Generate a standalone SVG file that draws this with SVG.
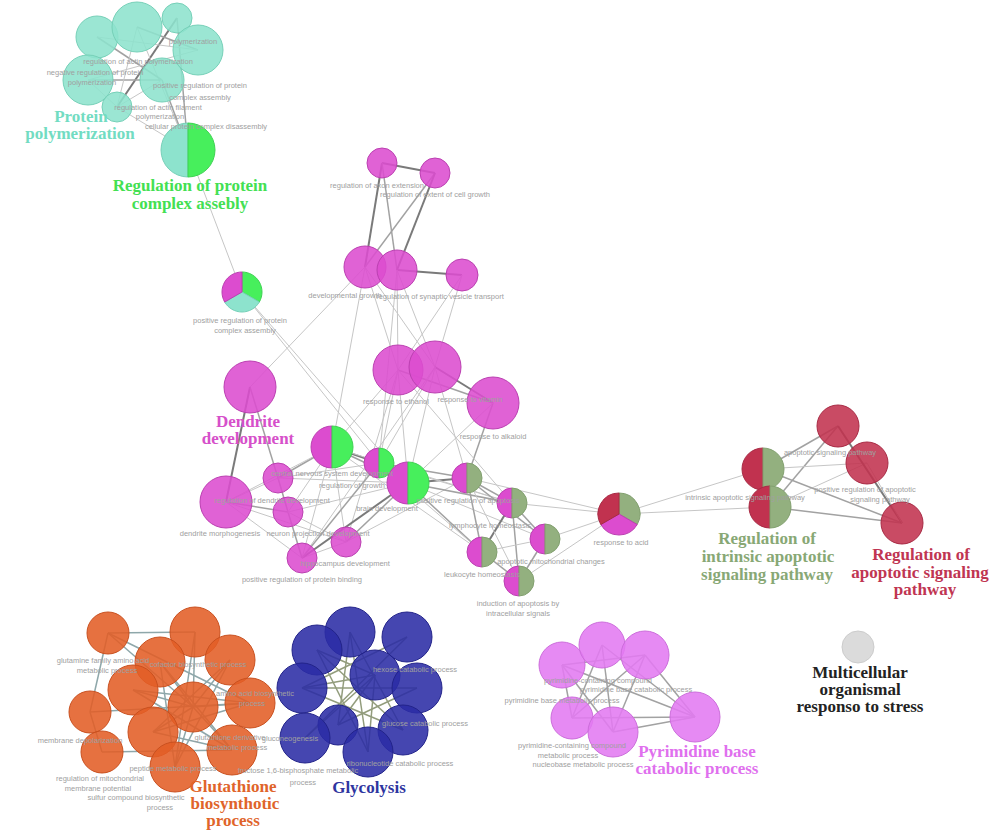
<svg xmlns="http://www.w3.org/2000/svg" width="1000" height="840" viewBox="0 0 1000 840">
<style>
.e{stroke:#c6c6c6;stroke-width:1;fill:none}
.e2{stroke:#a2a2a2;stroke-width:1.5;fill:none}
.e3{stroke:#7a7a7a;stroke-width:2;fill:none}
.eo{stroke:#8ea7aa;stroke-width:1.5;fill:none}
.eb{stroke:#929c7c;stroke-width:1.5;fill:none}
.n{fill-opacity:0.88;stroke-width:1}
.cy{fill:#8de3cd;stroke:#76d0b8}
.gr{fill:#47ef5c;stroke:#3ed252}
.mg{fill:#dc4ccf;stroke:#bb40b1}
.gg{fill:#93b07f;stroke:#82a06f}
.cr{fill:#c1324f;stroke:#a82a44}
.or{fill:#e35d25;stroke:#c9501f}
.bl{fill:#2b2ca5;stroke:#22238a}
.vi{fill:#e27af1;stroke:#cc6ddb}
.gy{fill:#d6d6d6;stroke:#cccccc}
.s{font-family:"Liberation Sans",Arial,sans-serif;font-size:7.5px;fill:#a0a0a0;text-anchor:middle}
.t{font-family:"Liberation Serif","Times New Roman",serif;font-weight:bold;font-size:17px;text-anchor:middle}
</style>
<rect width="1000" height="840" fill="#ffffff"/>

<g id="connectors">
<line class="e3" x1="177" y1="18" x2="117" y2="107"/>
<line class="e2" x1="177" y1="18" x2="188" y2="150"/>
<line class="e" x1="137" y1="27" x2="188" y2="150"/>
<line class="e2" x1="162" y1="80" x2="188" y2="150"/>
<line class="e" x1="117" y1="107" x2="188" y2="150"/>
<line class="e2" x1="97" y1="37" x2="162" y2="80"/>
<line class="e2" x1="88" y1="80" x2="162" y2="80"/>
<line class="e" x1="88" y1="80" x2="198" y2="50"/>
<line class="e2" x1="137" y1="27" x2="198" y2="50"/>
<line class="e" x1="117" y1="107" x2="162" y2="80"/>
<line class="e" x1="88" y1="80" x2="117" y2="107"/>
<line class="e" x1="97" y1="37" x2="198" y2="50"/>
<line class="e" x1="137" y1="27" x2="117" y2="107"/>
<line class="e" x1="188" y1="150" x2="242" y2="292"/>
<line class="e" x1="242" y1="292" x2="379" y2="463"/>
<line class="e" x1="242" y1="292" x2="408" y2="483"/>
<line class="e3" x1="382" y1="163" x2="435" y2="173"/>
<line class="e3" x1="382" y1="163" x2="365" y2="267"/>
<line class="e2" x1="382" y1="163" x2="397" y2="270"/>
<line class="e2" x1="435" y1="173" x2="365" y2="267"/>
<line class="e3" x1="435" y1="173" x2="397" y2="270"/>
<line class="e3" x1="397" y1="270" x2="462" y2="275"/>
<line class="e" x1="365" y1="267" x2="398" y2="370"/>
<line class="e" x1="397" y1="270" x2="398" y2="370"/>
<line class="e" x1="397" y1="270" x2="435" y2="367"/>
<line class="e" x1="365" y1="267" x2="435" y2="367"/>
<line class="e" x1="462" y1="275" x2="435" y2="367"/>
<line class="e" x1="462" y1="275" x2="398" y2="370"/>
<line class="e" x1="365" y1="267" x2="332" y2="447"/>
<line class="e" x1="397" y1="270" x2="379" y2="463"/>
<line class="e" x1="365" y1="267" x2="250" y2="387"/>
<line class="e3" x1="435" y1="367" x2="493" y2="403"/>
<line class="e2" x1="398" y1="370" x2="493" y2="403"/>
<line class="e" x1="398" y1="370" x2="332" y2="447"/>
<line class="e" x1="398" y1="370" x2="379" y2="463"/>
<line class="e" x1="398" y1="370" x2="408" y2="483"/>
<line class="e" x1="435" y1="367" x2="408" y2="483"/>
<line class="e" x1="435" y1="367" x2="467" y2="478"/>
<line class="e" x1="435" y1="367" x2="379" y2="463"/>
<line class="e2" x1="493" y1="403" x2="467" y2="478"/>
<line class="e" x1="493" y1="403" x2="408" y2="483"/>
<line class="e" x1="398" y1="370" x2="346" y2="542"/>
<line class="e" x1="435" y1="367" x2="302" y2="558"/>
<line class="e" x1="398" y1="370" x2="512" y2="503"/>
<line class="e3" x1="250" y1="387" x2="226" y2="502"/>
<line class="e2" x1="250" y1="387" x2="278" y2="478"/>
<line class="e" x1="226" y1="502" x2="278" y2="478"/>
<line class="e2" x1="226" y1="502" x2="288" y2="512"/>
<line class="e" x1="226" y1="502" x2="346" y2="542"/>
<line class="e" x1="226" y1="502" x2="302" y2="558"/>
<line class="e2" x1="278" y1="478" x2="288" y2="512"/>
<line class="e2" x1="278" y1="478" x2="332" y2="447"/>
<line class="e" x1="288" y1="512" x2="332" y2="447"/>
<line class="e2" x1="288" y1="512" x2="302" y2="558"/>
<line class="e" x1="288" y1="512" x2="346" y2="542"/>
<line class="e" x1="302" y1="558" x2="346" y2="542"/>
<line class="e3" x1="302" y1="558" x2="408" y2="483"/>
<line class="e2" x1="346" y1="542" x2="408" y2="483"/>
<line class="e" x1="346" y1="542" x2="332" y2="447"/>
<line class="e" x1="302" y1="558" x2="332" y2="447"/>
<line class="e" x1="278" y1="478" x2="408" y2="483"/>
<line class="e" x1="288" y1="512" x2="408" y2="483"/>
<line class="e" x1="226" y1="502" x2="332" y2="447"/>
<line class="e" x1="346" y1="542" x2="467" y2="478"/>
<line class="e" x1="278" y1="478" x2="379" y2="463"/>
<line class="e2" x1="302" y1="558" x2="379" y2="463"/>
<line class="e3" x1="332" y1="447" x2="379" y2="463"/>
<line class="e2" x1="379" y1="463" x2="408" y2="483"/>
<line class="e2" x1="332" y1="447" x2="408" y2="483"/>
<line class="e3" x1="408" y1="483" x2="467" y2="478"/>
<line class="e2" x1="408" y1="483" x2="512" y2="503"/>
<line class="e2" x1="408" y1="483" x2="482" y2="552"/>
<line class="e" x1="408" y1="483" x2="545" y2="539"/>
<line class="e2" x1="379" y1="463" x2="467" y2="478"/>
<line class="e" x1="379" y1="463" x2="482" y2="552"/>
<line class="e" x1="332" y1="447" x2="482" y2="552"/>
<line class="e" x1="332" y1="447" x2="512" y2="503"/>
<line class="e" x1="379" y1="463" x2="512" y2="503"/>
<line class="e2" x1="467" y1="478" x2="512" y2="503"/>
<line class="e2" x1="467" y1="478" x2="482" y2="552"/>
<line class="e2" x1="467" y1="478" x2="545" y2="539"/>
<line class="e2" x1="512" y1="503" x2="545" y2="539"/>
<line class="e3" x1="512" y1="503" x2="482" y2="552"/>
<line class="e2" x1="512" y1="503" x2="519" y2="581"/>
<line class="e" x1="545" y1="539" x2="482" y2="552"/>
<line class="e2" x1="545" y1="539" x2="519" y2="581"/>
<line class="e2" x1="482" y1="552" x2="519" y2="581"/>
<line class="e" x1="467" y1="478" x2="519" y2="581"/>
<line class="e" x1="467" y1="478" x2="619" y2="514"/>
<line class="e" x1="512" y1="503" x2="619" y2="514"/>
<line class="e" x1="545" y1="539" x2="619" y2="514"/>
<line class="e" x1="519" y1="581" x2="619" y2="514"/>
<line class="e" x1="619" y1="514" x2="763" y2="469"/>
<line class="e" x1="619" y1="514" x2="770" y2="507"/>
<line class="e2" x1="763" y1="469" x2="838" y2="426"/>
<line class="e2" x1="770" y1="507" x2="838" y2="426"/>
<line class="e" x1="763" y1="469" x2="867" y2="463"/>
<line class="e" x1="770" y1="507" x2="867" y2="463"/>
<line class="e2" x1="763" y1="469" x2="902" y2="523"/>
<line class="e2" x1="770" y1="507" x2="902" y2="523"/>
<line class="e3" x1="838" y1="426" x2="902" y2="523"/>
<line class="e" x1="867" y1="463" x2="902" y2="523"/>
<line class="eo" x1="108" y1="633" x2="195" y2="632"/>
<line class="eo" x1="108" y1="633" x2="90" y2="712"/>
<line class="eo" x1="90" y1="712" x2="102" y2="752"/>
<line class="eo" x1="108" y1="633" x2="193" y2="707"/>
<line class="eo" x1="195" y1="632" x2="193" y2="707"/>
<line class="eo" x1="160" y1="662" x2="193" y2="707"/>
<line class="eo" x1="230" y1="660" x2="193" y2="707"/>
<line class="eo" x1="133" y1="690" x2="193" y2="707"/>
<line class="eo" x1="250" y1="703" x2="193" y2="707"/>
<line class="eo" x1="153" y1="732" x2="193" y2="707"/>
<line class="eo" x1="175" y1="767" x2="193" y2="707"/>
<line class="eo" x1="232" y1="750" x2="193" y2="707"/>
<line class="eo" x1="160" y1="662" x2="232" y2="750"/>
<line class="eo" x1="230" y1="660" x2="153" y2="732"/>
<line class="eo" x1="133" y1="690" x2="250" y2="703"/>
<line class="eo" x1="195" y1="632" x2="175" y2="767"/>
<line class="eo" x1="160" y1="662" x2="175" y2="767"/>
<line class="eo" x1="230" y1="660" x2="175" y2="767"/>
<line class="eo" x1="153" y1="732" x2="232" y2="750"/>
<line class="eo" x1="133" y1="690" x2="232" y2="750"/>
<line class="eo" x1="90" y1="712" x2="250" y2="703"/>
<line class="eo" x1="102" y1="752" x2="232" y2="750"/>
<line class="eo" x1="153" y1="732" x2="250" y2="703"/>
<line class="eo" x1="108" y1="633" x2="250" y2="703"/>
<line class="eb" x1="350" y1="632" x2="368" y2="752"/>
<line class="eb" x1="317" y1="650" x2="403" y2="730"/>
<line class="eb" x1="302" y1="688" x2="403" y2="730"/>
<line class="eb" x1="302" y1="688" x2="375" y2="675"/>
<line class="eb" x1="317" y1="650" x2="375" y2="675"/>
<line class="eb" x1="375" y1="675" x2="305" y2="738"/>
<line class="eb" x1="375" y1="675" x2="338" y2="725"/>
<line class="eb" x1="407" y1="637" x2="305" y2="738"/>
<line class="eb" x1="350" y1="632" x2="338" y2="725"/>
<line class="eb" x1="417" y1="688" x2="338" y2="725"/>
<line class="eb" x1="317" y1="650" x2="368" y2="752"/>
<line class="eb" x1="375" y1="675" x2="368" y2="752"/>
<line class="eb" x1="407" y1="637" x2="302" y2="688"/>
<line class="eb" x1="417" y1="688" x2="302" y2="688"/>
<line class="eb" x1="350" y1="632" x2="403" y2="730"/>
<line class="e2" x1="562" y1="665" x2="645" y2="655"/>
<line class="e2" x1="562" y1="665" x2="695" y2="717"/>
<line class="e2" x1="602" y1="645" x2="572" y2="718"/>
<line class="e2" x1="602" y1="645" x2="613" y2="732"/>
<line class="e2" x1="645" y1="655" x2="572" y2="718"/>
<line class="e2" x1="645" y1="655" x2="695" y2="717"/>
<line class="e2" x1="572" y1="718" x2="695" y2="717"/>
<line class="e2" x1="613" y1="732" x2="695" y2="717"/>
<line class="e2" x1="562" y1="665" x2="613" y2="732"/>
<line class="e2" x1="602" y1="645" x2="695" y2="717"/>
<line class="e2" x1="562" y1="665" x2="572" y2="718"/>
<line class="e2" x1="645" y1="655" x2="613" y2="732"/>
</g>

<g id="node-c1"><circle class="n cy" cx="97" cy="37" r="21"/></g>
<g id="node-c2"><circle class="n cy" cx="137" cy="27" r="25"/></g>
<g id="node-c3"><circle class="n cy" cx="177" cy="18" r="15"/></g>
<g id="node-c4"><circle class="n cy" cx="198" cy="50" r="25"/></g>
<g id="node-c5"><circle class="n cy" cx="88" cy="80" r="25"/></g>
<g id="node-c6"><circle class="n cy" cx="162" cy="80" r="22"/></g>
<g id="node-c7"><circle class="n cy" cx="117" cy="107" r="15"/></g>
<g id="node-c8">
<path class="cy" d="M188,123 A27,27 0 0 0 188,177 Z"/>
<path class="gr" d="M188,123 A27,27 0 0 1 188,177 Z"/>
</g>

<g id="node-m-axon"><circle class="n mg" cx="382" cy="163" r="15"/></g>
<g id="node-m-extent"><circle class="n mg" cx="435" cy="173" r="15"/></g>
<g id="node-m-devgrowth"><circle class="n mg" cx="365" cy="267" r="21"/></g>
<g id="node-m-synaptic"><circle class="n mg" cx="397" cy="270" r="20"/></g>
<g id="node-m-small"><circle class="n mg" cx="462" cy="275" r="16"/></g>
<g id="node-t1">
<path class="gr" d="M242,292 L242,272 A20,20 0 0 1 259.32,302 Z"/>
<path class="cy" d="M242,292 L259.32,302 A20,20 0 0 1 224.68,302 Z"/>
<path class="mg" d="M242,292 L224.68,302 A20,20 0 0 1 242,272 Z"/>
</g>
<g id="node-m-ethanol"><circle class="n mg" cx="398" cy="370" r="25"/></g>
<g id="node-m-vitamin"><circle class="n mg" cx="435" cy="367" r="26"/></g>
<g id="node-m-alkaloid"><circle class="n mg" cx="493" cy="403" r="26"/></g>
<g id="node-dendrite"><circle class="n mg" cx="250" cy="387" r="26"/></g>
<g id="node-s1">
<path class="mg" d="M332,426 A21,21 0 0 0 332,468 Z"/>
<path class="gr" d="M332,426 A21,21 0 0 1 332,468 Z"/>
</g>
<g id="node-s2">
<path class="mg" d="M379,448 A15,15 0 0 0 379,478 Z"/>
<path class="gr" d="M379,448 A15,15 0 0 1 379,478 Z"/>
</g>
<g id="node-s3">
<path class="mg" d="M408,462 A21,21 0 0 0 408,504 Z"/>
<path class="gr" d="M408,462 A21,21 0 0 1 408,504 Z"/>
</g>
<g id="node-g1">
<path class="mg" d="M467,463 A15,15 0 0 0 467,493 Z"/>
<path class="gg" d="M467,463 A15,15 0 0 1 467,493 Z"/>
</g>
<g id="node-g2">
<path class="mg" d="M512,488 A15,15 0 0 0 512,518 Z"/>
<path class="gg" d="M512,488 A15,15 0 0 1 512,518 Z"/>
</g>
<g id="node-g3">
<path class="mg" d="M545,524 A15,15 0 0 0 545,554 Z"/>
<path class="gg" d="M545,524 A15,15 0 0 1 545,554 Z"/>
</g>
<g id="node-g4">
<path class="mg" d="M482,537 A15,15 0 0 0 482,567 Z"/>
<path class="gg" d="M482,537 A15,15 0 0 1 482,567 Z"/>
</g>
<g id="node-g5">
<path class="mg" d="M519,566 A15,15 0 0 0 519,596 Z"/>
<path class="gg" d="M519,566 A15,15 0 0 1 519,596 Z"/>
</g>
<g id="node-m1"><circle class="n mg" cx="278" cy="478" r="15"/></g>
<g id="node-m2"><circle class="n mg" cx="288" cy="512" r="15"/></g>
<g id="node-m3"><circle class="n mg" cx="226" cy="502" r="26"/></g>
<g id="node-m4"><circle class="n mg" cx="302" cy="558" r="15"/></g>
<g id="node-m5"><circle class="n mg" cx="346" cy="542" r="15"/></g>
<g id="node-t2">
<path class="gg" d="M619,514 L619,493 A21,21 0 0 1 637.19,524.5 Z"/>
<path class="mg" d="M619,514 L637.19,524.5 A21,21 0 0 1 600.81,524.5 Z"/>
<path class="cr" d="M619,514 L600.81,524.5 A21,21 0 0 1 619,493 Z"/>
</g>

<g id="node-r1">
<path class="cr" d="M763,448 A21,21 0 0 0 763,490 Z"/>
<path class="gg" d="M763,448 A21,21 0 0 1 763,490 Z"/>
</g>
<g id="node-r2">
<path class="cr" d="M770,486 A21,21 0 0 0 770,528 Z"/>
<path class="gg" d="M770,486 A21,21 0 0 1 770,528 Z"/>
</g>
<g id="node-r3"><circle class="n cr" cx="838" cy="426" r="21"/></g>
<g id="node-r4"><circle class="n cr" cx="867" cy="463" r="21"/></g>
<g id="node-r5"><circle class="n cr" cx="902" cy="523" r="21"/></g>

<g id="node-o1"><circle class="n or" cx="108" cy="633" r="21"/></g>
<g id="node-o2"><circle class="n or" cx="195" cy="632" r="25"/></g>
<g id="node-o3"><circle class="n or" cx="230" cy="660" r="25"/></g>
<g id="node-o4"><circle class="n or" cx="160" cy="662" r="25"/></g>
<g id="node-o5"><circle class="n or" cx="133" cy="690" r="25"/></g>
<g id="node-o6"><circle class="n or" cx="193" cy="707" r="25"/></g>
<g id="node-o7"><circle class="n or" cx="250" cy="703" r="25"/></g>
<g id="node-o8"><circle class="n or" cx="90" cy="712" r="21"/></g>
<g id="node-o9"><circle class="n or" cx="153" cy="732" r="25"/></g>
<g id="node-o10"><circle class="n or" cx="102" cy="752" r="21"/></g>
<g id="node-o11"><circle class="n or" cx="175" cy="767" r="25"/></g>
<g id="node-o12"><circle class="n or" cx="232" cy="750" r="25"/></g>

<g id="node-b1"><circle class="n bl" cx="350" cy="632" r="25"/></g>
<g id="node-b2"><circle class="n bl" cx="407" cy="637" r="25"/></g>
<g id="node-b3"><circle class="n bl" cx="317" cy="650" r="25"/></g>
<g id="node-b4"><circle class="n bl" cx="375" cy="675" r="25"/></g>
<g id="node-b5"><circle class="n bl" cx="302" cy="688" r="25"/></g>
<g id="node-b6"><circle class="n bl" cx="417" cy="688" r="25"/></g>
<g id="node-b7"><circle class="n bl" cx="338" cy="725" r="20"/></g>
<g id="node-b8"><circle class="n bl" cx="305" cy="738" r="25"/></g>
<g id="node-b9"><circle class="n bl" cx="403" cy="730" r="25"/></g>
<g id="node-b10"><circle class="n bl" cx="368" cy="752" r="25"/></g>

<g id="node-p1"><circle class="n vi" cx="562" cy="665" r="23"/></g>
<g id="node-p2"><circle class="n vi" cx="602" cy="645" r="23"/></g>
<g id="node-p3"><circle class="n vi" cx="645" cy="655" r="24"/></g>
<g id="node-p4"><circle class="n vi" cx="572" cy="718" r="21"/></g>
<g id="node-p5"><circle class="n vi" cx="613" cy="732" r="25"/></g>
<g id="node-p6"><circle class="n vi" cx="695" cy="717" r="25"/></g>

<g id="node-stress"><circle class="n gy" cx="858" cy="647" r="16"/></g>

<g id="small-labels">
<text class="s" x="193" y="44">polymerization</text>
<text class="s" x="138" y="64">regulation of actin polymerization</text>
<text class="s" x="95" y="75">negative regulation of protein</text>
<text class="s" x="92" y="85">polymerization</text>
<text class="s" x="200" y="88">positive regulation of protein</text>
<text class="s" x="200" y="100">complex assembly</text>
<text class="s" x="158" y="110">regulation of actin filament</text>
<text class="s" x="160" y="119">polymerization</text>
<text class="s" x="206" y="129">cellular protein complex disassembly</text>
<text class="s" x="377" y="188">regulation of axon extension</text>
<text class="s" x="435" y="197">regulation of extent of cell growth</text>
<text class="s" x="345" y="298">developmental growth</text>
<text class="s" x="440" y="299">regulation of synaptic vesicle transport</text>
<text class="s" x="240" y="323">positive regulation of protein</text>
<text class="s" x="245" y="333">complex assembly</text>
<text class="s" x="396" y="404">response to ethanol</text>
<text class="s" x="470" y="402">response to vitamin</text>
<text class="s" x="493" y="439">response to alkaloid</text>
<text class="s" x="332" y="476">central nervous system development</text>
<text class="s" x="352" y="488">regulation of growth</text>
<text class="s" x="272" y="503">regulation of dendrite development</text>
<text class="s" x="387" y="511">brain development</text>
<text class="s" x="468" y="503">positive regulation of apoptosis</text>
<text class="s" x="490" y="528">lymphocyte homeostasis</text>
<text class="s" x="220" y="536">dendrite morphogenesis</text>
<text class="s" x="318" y="536">neuron projection development</text>
<text class="s" x="551" y="564">apoptotic mitochondrial changes</text>
<text class="s" x="345" y="566">hippocampus development</text>
<text class="s" x="482" y="577">leukocyte homeostasis</text>
<text class="s" x="302" y="582">positive regulation of protein binding</text>
<text class="s" x="518" y="606">induction of apoptosis by</text>
<text class="s" x="518" y="616">intracellular signals</text>
<text class="s" x="621" y="545">response to acid</text>
<text class="s" x="830" y="455">apoptotic signaling pathway</text>
<text class="s" x="745" y="500">intrinsic apoptotic signaling pathway</text>
<text class="s" x="865" y="492">positive regulation of apoptotic</text>
<text class="s" x="880" y="502">signaling pathway</text>
<text class="s" x="103" y="663">glutamine family amino acid</text>
<text class="s" x="107" y="673">metabolic process</text>
<text class="s" x="198" y="667">cofactor biosynthetic process</text>
<text class="s" x="255" y="696">amino acid biosynthetic</text>
<text class="s" x="252" y="706">process</text>
<text class="s" x="80" y="743">membrane depolarization</text>
<text class="s" x="230" y="740">glutathione derivative</text>
<text class="s" x="237" y="750">metabolic process</text>
<text class="s" x="173" y="771">peptide metabolic process</text>
<text class="s" x="100" y="781">regulation of mitochondrial</text>
<text class="s" x="98" y="791">membrane potential</text>
<text class="s" x="136" y="800">sulfur compound biosynthetic</text>
<text class="s" x="160" y="810">process</text>
<text class="s" x="415" y="672">hexose catabolic process</text>
<text class="s" x="425" y="726">glucose catabolic process</text>
<text class="s" x="290" y="741">gluconeogenesis</text>
<text class="s" x="400" y="766">ribonucleotide catabolic process</text>
<text class="s" x="298" y="773">fructose 1,6-bisphosphate metabolic</text>
<text class="s" x="303" y="785">process</text>
<text class="s" x="598" y="683">pyrimidine-containing compound</text>
<text class="s" x="636" y="692">pyrimidine base catabolic process</text>
<text class="s" x="562" y="703">pyrimidine base metabolic process</text>
<text class="s" x="572" y="748">pyrimidine-containing compound</text>
<text class="s" x="568" y="758">metabolic process</text>
<text class="s" x="583" y="767">nucleobase metabolic process</text>
</g>

<g id="cluster-titles">
<text class="t" x="81" y="122" fill="#72dcc2">Protein</text>
<text class="t" x="80" y="139" fill="#72dcc2">polymerization</text>
<text class="t" x="190" y="191" fill="#43e052">Regulation of protein</text>
<text class="t" x="190" y="209" fill="#43e052">complex assebly</text>
<text class="t" x="248" y="427" fill="#d650ca">Dendrite</text>
<text class="t" x="248" y="444" fill="#d650ca">development</text>
<text class="t" x="767" y="544" fill="#88a875">Regulation of</text>
<text class="t" x="768" y="562" fill="#88a875">intrinsic apoptotic</text>
<text class="t" x="767" y="580" fill="#88a875">signaling pathway</text>
<text class="t" x="921" y="560" fill="#c03552">Regulation of</text>
<text class="t" x="920" y="578" fill="#c03552">apoptotic signaling</text>
<text class="t" x="925" y="595" fill="#c03552">pathway</text>
<text class="t" x="233" y="792" fill="#e0642a">Glutathione</text>
<text class="t" x="235" y="809" fill="#e0642a">biosynthotic</text>
<text class="t" x="233" y="826" fill="#e0642a">process</text>
<text class="t" x="369" y="793" fill="#2e35a0">Glycolysis</text>
<text class="t" x="697" y="757" fill="#e070ee">Pyrimidine base</text>
<text class="t" x="697" y="774" fill="#e070ee">catabolic process</text>
<text class="t" x="860" y="678" fill="#222222">Multicellular</text>
<text class="t" x="860" y="695" fill="#222222">organismal</text>
<text class="t" x="860" y="712" fill="#222222">responso to stress</text>
</g>
</svg>
